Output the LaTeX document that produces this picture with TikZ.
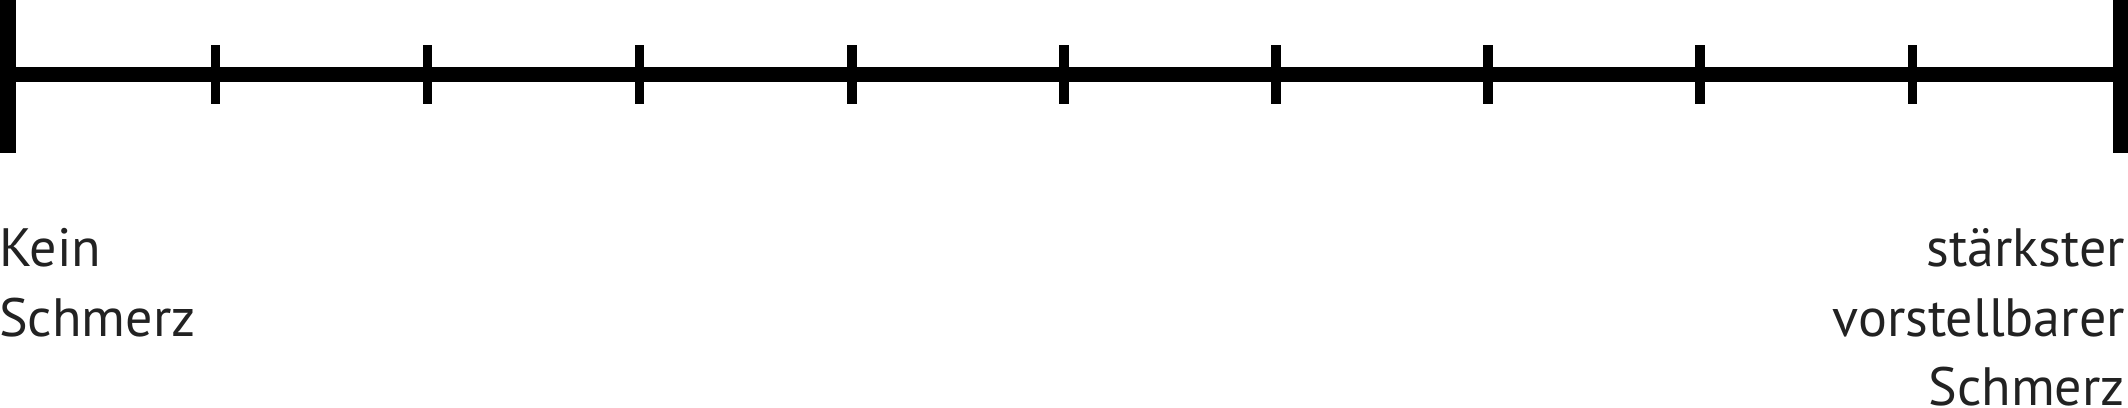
\documentclass[tikz,border=0pt]{standalone}
\usepackage{fontspec}
\setmainfont{PT Sans}
\usepackage{tikz}
\definecolor{labelgray}{RGB}{34,34,34}

\begin{document}
\begin{tikzpicture}[x=1pt,y=1pt,
    endbar/.style={line width=15.5pt},
    scaleline/.style={line width=15pt},
    tick/.style={line width=9.5pt},
    painlabel/.style={labelgray,inner sep=0pt,font=\fontsize{54}{70}\selectfont}]
        \useasboundingbox (0, 0) rectangle (2128, -407);

        \coordinate (lo) at (7.75, -74.5);
        \coordinate (hi) at (2120.25, -74.5);
        \draw[endbar] (7.75, 0) -- (7.75, -153);
        \draw[endbar] (2120.25, 0) -- (2120.25, -153);
        \draw[scaleline] (lo) -- (hi);

        \draw[tick] (215.5, -45) -- (215.5, -104);
        \draw[tick] (427.6, -45) -- (427.6, -104);
        \draw[tick] (639.7, -45) -- (639.7, -104);
        \draw[tick] (851.8, -45) -- (851.8, -104);
        \draw[tick] (1063.9, -45) -- (1063.9, -104);
        \draw[tick] (1276, -45) -- (1276, -104);
        \draw[tick] (1488.1, -45) -- (1488.1, -104);
        \draw[tick] (1700.2, -45) -- (1700.2, -104);
        \draw[tick] (1912.3, -45) -- (1912.3, -104);

        \node[painlabel,anchor=base west] (kein) at (-1, -266.7) {Kein};
        \node[painlabel,anchor=base west] (schmerzlo) at (-1, -336.7) {Schmerz};

        \node[painlabel,anchor=base east] (staerkster) at (2125, -266.7) {stärkster};
        \node[painlabel,anchor=base east] (vorstellbar) at (2125, -336.7) {vorstellbarer};
        \node[painlabel,anchor=base east] (schmerzhi) at (2125, -405) {Schmerz};
    \end{tikzpicture}
\end{document}
